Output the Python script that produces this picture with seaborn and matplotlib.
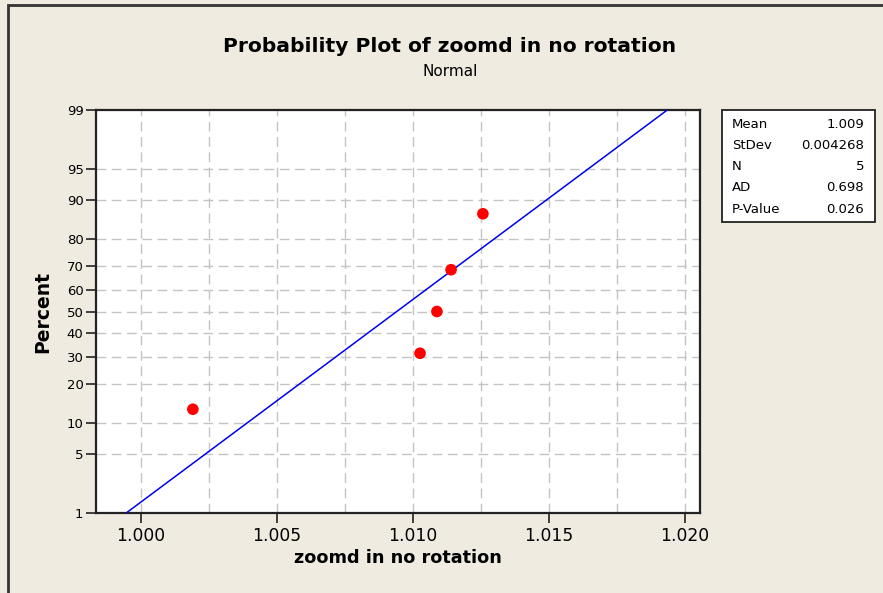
import numpy as np
import pandas as pd
import seaborn as sns
import matplotlib
matplotlib.use("Agg")
import matplotlib.pyplot as plt
from matplotlib.patches import Rectangle
from statistics import NormalDist

# ---- data ----
x_values = [1.00191, 1.01026, 1.01088, 1.01140, 1.01257]
percent_values = [12.96, 31.48, 50.0, 68.52, 87.04]
y_ticks = [1, 5, 10, 20, 30, 40, 50, 60, 70, 80, 90, 95, 99]
x_ticks = [1.000, 1.005, 1.010, 1.015, 1.020]
stat_labels = ["Mean", "StDev", "N", "AD", "P-Value"]
stat_values = ["1.009", "0.004268", "5", "0.698", "0.026"]
line_percent = [1, 5, 10, 30, 50, 70, 90, 95, 99]

mean = float(np.mean(x_values))
sd = float(np.std(x_values, ddof=1))
nd = NormalDist()

_ppf = np.vectorize(lambda v: nd.inv_cdf(min(max(v / 100.0, 1e-9), 1 - 1e-9)), otypes=[float])
_cdf = np.vectorize(lambda v: nd.cdf(v) * 100.0, otypes=[float])

def fwd(p):
    return _ppf(np.asarray(p, dtype=float))

def inv(z):
    return _cdf(np.asarray(z, dtype=float))

points = pd.DataFrame({"x": x_values, "percent": percent_values})
fit = pd.DataFrame({"percent": line_percent})
fit["x"] = [mean + sd * nd.inv_cdf(p / 100.0) for p in line_percent]

sns.set_theme(style="white")
plt.rcParams["font.family"] = ["DejaVu Sans"]
plt.rcParams["text.color"] = "black"
plt.rcParams["axes.labelcolor"] = "black"
plt.rcParams["xtick.color"] = "black"
plt.rcParams["ytick.color"] = "black"
bg = "#EFEBE1"
fig = plt.figure(figsize=(8.83, 5.93), dpi=100, facecolor=bg)
fig.patches.append(Rectangle((8 / 883, -0.1), 1.2, 1.1 - 5 / 593,
                             transform=fig.transFigure, fill=False,
                             edgecolor="#333333", linewidth=2, zorder=0))
ax = fig.add_axes([96 / 883, 1 - 513 / 593, (700 - 96) / 883, (513 - 110) / 593])
ax.set_facecolor("white")
ax.set_yscale("function", functions=(fwd, inv))

# grid lines
for xv in np.arange(1.0000, 1.0201, 0.0025):
    ax.axvline(xv, color="#c4c4c4", linestyle=(0, (7, 4)), linewidth=1, zorder=1)
for yv in y_ticks[1:-1]:
    ax.axhline(yv, color="#c4c4c4", linestyle=(0, (7, 4)), linewidth=1, zorder=1)

sns.lineplot(data=fit, x="x", y="percent", ax=ax, color="#0000f0", linewidth=1.1,
             sort=False, zorder=3)
sns.scatterplot(data=points, x="x", y="percent", ax=ax, color="#ff0000", s=70,
                edgecolor="none", zorder=4)

ax.set_ylim(1, 99)
ax.set_xlim(0.99835, 1.02055)
ax.set_yticks(y_ticks)
ax.set_yticklabels([str(t) for t in y_ticks])
ax.set_xticks(x_ticks)
ax.set_xticklabels([f"{t:.3f}" for t in x_ticks])
ax.minorticks_off()
ax.tick_params(axis="both", direction="out", length=7, width=1.2, color="#222222",
               labelcolor="black")
ax.tick_params(axis="y", labelsize=9.5, pad=2, left=True)
ax.tick_params(axis="x", labelsize=12.3, pad=3, bottom=True)
for s in ax.spines.values():
    s.set_color("#222222")
    s.set_linewidth(1.6)

ax.set_xlabel("zoomd in no rotation", fontsize=12.7, fontweight="bold", labelpad=3,
              color="black")
ax.set_ylabel("Percent", fontsize=13.5, fontweight="bold", labelpad=10, color="black")

fig.text(450 / 883, 1 - 47 / 593, "Probability Plot of zoomd in no rotation",
         ha="center", va="center", fontsize=14.6, fontweight="bold", color="black")
fig.text(450 / 883, 1 - 72 / 593, "Normal", ha="center", va="center", fontsize=11,
         color="black")

# statistics box
fig.patches.append(Rectangle((722 / 883, 1 - 222 / 593), (875 - 722) / 883, (222 - 110) / 593,
                             transform=fig.transFigure, facecolor="white",
                             edgecolor="#222222", linewidth=1.3, zorder=2))
for i, (lab, val) in enumerate(zip(stat_labels, stat_values)):
    yy = 1 - (124 + i * 21.3) / 593
    fig.text(732 / 883, yy, lab, ha="left", va="center", fontsize=9.5, zorder=3, color="black")
    fig.text(864 / 883, yy, val, ha="right", va="center", fontsize=9.5, zorder=3, color="black")

fig.savefig("out.png", dpi=100, facecolor=bg)
